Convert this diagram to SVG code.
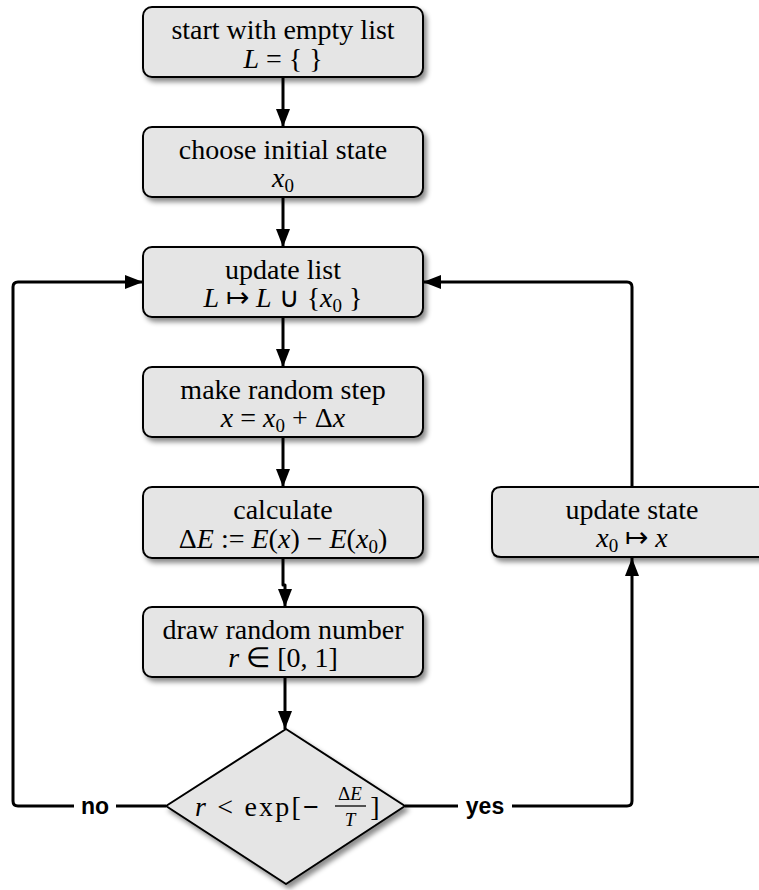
<svg xmlns="http://www.w3.org/2000/svg" width="759" height="890" viewBox="0 0 759 890">
<style>
.box{fill:#e5e5e5;stroke:#000;stroke-width:2;filter:url(#sh)}
.t{font-family:"Liberation Serif",serif;font-size:28px;fill:#000;text-anchor:middle}
.i{font-style:italic}
.sub{font-size:19px}
.con{fill:none;stroke:#000;stroke-width:3;stroke-linejoin:round}
.lbl{font-family:"Liberation Sans",Arial,sans-serif;font-weight:bold;font-size:23px;fill:#000;text-anchor:middle}
</style>
<defs>
<filter id="sh" x="-10%" y="-10%" width="130%" height="140%">
<feDropShadow dx="3" dy="4" stdDeviation="2.5" flood-color="#000" flood-opacity="0.45"/>
</filter>
<marker id="ah" markerUnits="userSpaceOnUse" markerWidth="20" markerHeight="16" refX="18" refY="8" orient="auto">
<path d="M0,1 L18,8 L0,15 Z" fill="#000"/>
</marker>
</defs>
<g id="connectors">
<line class="con" x1="283" y1="78" x2="283" y2="127" marker-end="url(#ah)"/>
<line class="con" x1="283" y1="198" x2="283" y2="247" marker-end="url(#ah)"/>
<line class="con" x1="283" y1="318" x2="283" y2="367" marker-end="url(#ah)"/>
<line class="con" x1="283" y1="438" x2="283" y2="487" marker-end="url(#ah)"/>
<path class="con" d="M283,559 V585 H285 V607" marker-end="url(#ah)"/>
<line class="con" x1="285" y1="678" x2="285" y2="729" marker-end="url(#ah)"/>
<path class="con" d="M166,806 H18 Q13,806 13,801 V287 Q13,282 18,282 H143" marker-end="url(#ah)"/>
<path class="con" d="M405,806 H627 Q632,806 632,801 V558" marker-end="url(#ah)"/>
<path class="con" d="M632,487 V287 Q632,282 627,282 H423" marker-end="url(#ah)"/>
<rect x="74" y="794" width="42" height="24" fill="#fff"/>
<text class="lbl" x="95" y="814">no</text>
<rect x="458" y="794" width="54" height="24" fill="#fff"/>
<text class="lbl" x="485" y="814">yes</text>
</g>
<g id="n1">
<rect class="box" x="143" y="7" width="280" height="70" rx="9"/>
<text class="t" x="283" y="39">start with empty list</text>
<text class="t" x="283" y="68"><tspan class="i">L</tspan> = { }</text>
</g>
<g id="n2">
<rect class="box" x="143" y="127" width="280" height="70" rx="9"/>
<text class="t" x="283" y="159">choose initial state</text>
<text class="t" x="283" y="187"><tspan class="i">x</tspan><tspan class="sub" dy="5">0</tspan></text>
</g>
<g id="n3">
<rect class="box" x="143" y="247" width="280" height="70" rx="9"/>
<text class="t" x="283" y="279">update list</text>
<text class="t" x="283" y="307"><tspan class="i">L</tspan> ↦ <tspan class="i">L</tspan> ∪ {<tspan class="i">x</tspan><tspan class="sub" dy="5">0</tspan><tspan dy="-5"> }</tspan></text>
</g>
<g id="n4">
<rect class="box" x="143" y="367" width="280" height="70" rx="9"/>
<text class="t" x="283" y="399">make random step</text>
<text class="t" x="283" y="427"><tspan class="i">x</tspan> = <tspan class="i">x</tspan><tspan class="sub" dy="5">0</tspan><tspan dy="-5"> + Δ</tspan><tspan class="i">x</tspan></text>
</g>
<g id="n5">
<rect class="box" x="143" y="487" width="280" height="71" rx="9"/>
<text class="t" x="283" y="519">calculate</text>
<text class="t" x="283" y="548">Δ<tspan class="i">E</tspan> := <tspan class="i">E</tspan>(<tspan class="i">x</tspan>) − <tspan class="i">E</tspan>(<tspan class="i">x</tspan><tspan class="sub" dy="5">0</tspan><tspan dy="-5">)</tspan></text>
</g>
<g id="n6">
<rect class="box" x="143" y="607" width="280" height="70" rx="9"/>
<text class="t" x="283" y="639">draw random number</text>
<text class="t" x="283" y="667"><tspan class="i">r</tspan> ∈ [0, 1]</text>
</g>
<g id="n7">
<path class="box" d="M770,557 H501 Q492,557 492,548 V496 Q492,487 501,487 H770"/>
<text class="t" x="632" y="519">update state</text>
<text class="t" x="632" y="547"><tspan class="i">x</tspan><tspan class="sub" dy="5">0</tspan><tspan dy="-5"> ↦ </tspan><tspan class="i">x</tspan></text>
</g>
<g id="n8">
<path class="box" d="M286,729 L405,806 L286,884 L166,806 Z" stroke-linejoin="round"/>
<text class="t" x="195" y="816" style="text-anchor:start;font-size:28px" textLength="124" lengthAdjust="spacing"><tspan class="i">r</tspan> &lt; exp[<tspan style="font-weight:bold">−</tspan></text>
<text class="t" x="350" y="800" style="font-size:19px">Δ<tspan class="i">E</tspan></text>
<line x1="335" y1="806" x2="366" y2="806" stroke="#000" stroke-width="1.3"/>
<text class="t i" x="350" y="826" style="font-size:19px">T</text>
<text class="t" x="375" y="816">]</text>
</g>
</svg>
